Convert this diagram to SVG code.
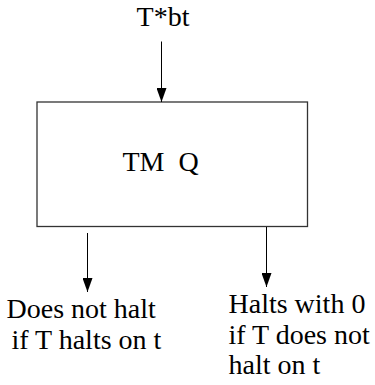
<svg xmlns="http://www.w3.org/2000/svg" width="375" height="385" viewBox="0 0 375 385">
<defs>
<marker id="ah" markerWidth="14" markerHeight="10" refX="14" refY="5" orient="auto" markerUnits="userSpaceOnUse" viewBox="0 0 14 10">
<path d="M0,0 L14,5 L0,10 Z" fill="#000"/>
</marker>
</defs>
<style>
.t{font-family:'Liberation Serif','Times New Roman',serif;font-size:28px;fill:#000}
.box{fill:#fff;stroke:#333;stroke-width:1.3}
.c{stroke:#000;stroke-width:1;fill:none}
</style>
<rect width="375" height="385" fill="#fff"/>
<g id="input">
<text class="t" x="163" y="25.5" text-anchor="middle">T*bt</text>
</g>
<g id="tmq">
<rect class="box" x="37" y="102" width="270.5" height="124.5"/>
<text class="t" x="122.5" y="170.5" xml:space="preserve">TM  Q</text>
</g>
<g id="out-left">
<text class="t" x="6.5" y="317.5">Does not halt</text>
<text class="t" x="11.5" y="348.5">if T halts on t</text>
</g>
<g id="out-right">
<text class="t" x="228.5" y="313">Halts with 0</text>
<text class="t" x="228.5" y="343.5">if T does not</text>
<text class="t" x="228.5" y="373.5">halt on t</text>
</g>
<g id="connectors">
<line class="c" x1="161.5" y1="41.5" x2="161.5" y2="102" marker-end="url(#ah)"/>
<line class="c" x1="87.5" y1="233" x2="87.5" y2="292" marker-end="url(#ah)"/>
<line class="c" x1="266.5" y1="227" x2="266.5" y2="287" marker-end="url(#ah)"/>
</g>
</svg>
